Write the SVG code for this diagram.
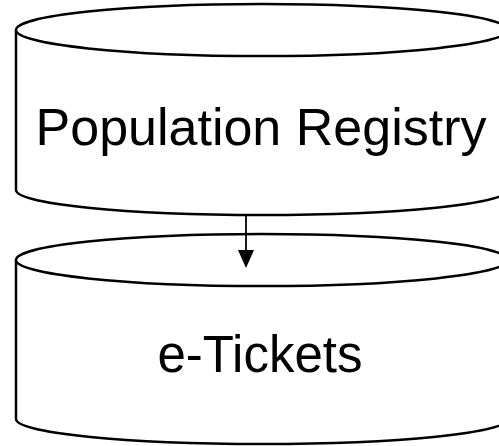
<svg xmlns="http://www.w3.org/2000/svg" width="499" height="446" viewBox="0 0 499 446">
<defs>
<style>
.cyl{fill:#fff;stroke:#000;stroke-width:2.5}
.lbl{font-family:"Liberation Sans",Arial,sans-serif;font-size:51px;fill:#000;text-anchor:middle}
.big{font-size:52px}
.conn{stroke:#000;stroke-width:1.8;fill:none}
</style>
</defs>
<g id="population-registry">
<path class="cyl" d="M16,30 A246,26 0 0 1 508,30 L508,190 A246,25 0 0 1 16,190 Z"/>
<path class="cyl" d="M16,30 A246,26 0 0 0 508,30" fill="none"/>
<text class="lbl big" x="261" y="145">Population Registry</text>
</g>
<g id="e-tickets">
<path class="cyl" d="M16,260 A246,26 0 0 1 508,260 L508,419 A246,25 0 0 1 16,419 Z"/>
<path class="cyl" d="M16,260 A246,26 0 0 0 508,260" fill="none"/>
<text class="lbl" x="260" y="372">e-Tickets</text>
</g>
<g id="connectors">
<line class="conn" x1="246" y1="215" x2="246" y2="251"/>
<path d="M238,250 L254,250 L246,268 Z" fill="#000"/>
</g>
</svg>
